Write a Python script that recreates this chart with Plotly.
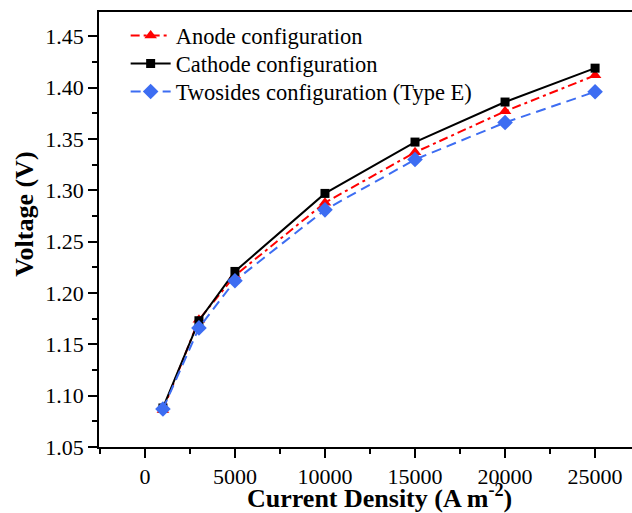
import plotly.graph_objects as go

current_density = [1000, 3000, 5000, 10000, 15000, 20000, 25000]
anode_v = [1.086, 1.174, 1.217, 1.288, 1.337, 1.377, 1.412]
cathode_v = [1.088, 1.173, 1.221, 1.297, 1.347, 1.386, 1.419]
twosides_v = [1.087, 1.166, 1.212, 1.281, 1.330, 1.366, 1.396]

x_ticks = [0, 5000, 10000, 15000, 20000, 25000]
y_ticks = [1.05, 1.10, 1.15, 1.20, 1.25, 1.30, 1.35, 1.40, 1.45]

FONT = "Liberation Serif"

fig = go.Figure()
fig.add_trace(go.Scatter(
    x=current_density, y=anode_v, name="Anode configuration",
    mode="lines+markers", legend="legend",
    line=dict(color="#FF0000", width=2, dash="9px,4px,3px,4px"),
    marker=dict(symbol="triangle-up", size=11, color="#FF0000"),
))
fig.add_trace(go.Scatter(
    x=current_density, y=cathode_v, name="Cathode configuration",
    mode="lines+markers", legend="legend2",
    line=dict(color="#000000", width=2),
    marker=dict(symbol="square", size=9, color="#000000"),
))
fig.add_trace(go.Scatter(
    x=current_density, y=twosides_v, name="Twosides configuration (Type E)",
    mode="lines+markers", legend="legend3",
    line=dict(color="#3D6DF2", width=2, dash="10px,6px"),
    marker=dict(symbol="diamond", size=12, color="#3D6DF2"),
))

def leg(ypos):
    return dict(x=0.05, y=ypos, xanchor="left", yanchor="middle",
                bgcolor="rgba(0,0,0,0)",
                font=dict(family=FONT, size=22.5, color="black"),
                itemwidth=40)

fig.update_layout(
    width=632, height=513,
    margin=dict(l=99, r=0, t=12, b=66),
    paper_bgcolor="white", plot_bgcolor="white",
    font=dict(family=FONT, size=22, color="black"),
    showlegend=True,
    legend=leg(0.945),
    legend2=leg(0.8805),
    legend3=leg(0.8163),
    xaxis=dict(
        range=[-2550, 27050], tickvals=x_ticks,
        ticktext=[str(v) for v in x_ticks],
        ticks="outside", ticklen=9, tickwidth=1.5, tickcolor="black",
        showline=True, linecolor="black", linewidth=1.5, mirror=True,
        showgrid=False, zeroline=False,
        minor=dict(dtick=2500, tick0=0, ticks="outside", ticklen=5,
                   tickwidth=1.5, tickcolor="black", showgrid=False),
        tickfont=dict(family=FONT, size=22, color="black"),
    ),
    yaxis=dict(
        range=[1.05, 1.4737], tickvals=y_ticks,
        ticktext=[f"{v:.2f}" for v in y_ticks],
        ticks="outside", ticklen=9, tickwidth=1.5, tickcolor="black",
        showline=True, linecolor="black", linewidth=1.5, mirror=False,
        showgrid=False, zeroline=False,
        minor=dict(dtick=0.025, tick0=1.05, ticks="outside", ticklen=5,
                   tickwidth=1.5, tickcolor="black", showgrid=False),
        tickfont=dict(family=FONT, size=22, color="black"),
    ),
    annotations=[
        dict(text="<b>Current Density (A m<sup>-2</sup>)</b>",
             xref="paper", yref="paper", x=0.527, y=-0.114,
             xanchor="center", yanchor="middle", showarrow=False,
             font=dict(family=FONT, size=26, color="black")),
        dict(text="<b>Voltage (V)</b>", textangle=-90,
             xref="paper", yref="paper", x=-0.141, y=0.5356,
             xanchor="center", yanchor="middle", showarrow=False,
             font=dict(family=FONT, size=26, color="black")),
    ],
)

fig.write_html("out.html")
